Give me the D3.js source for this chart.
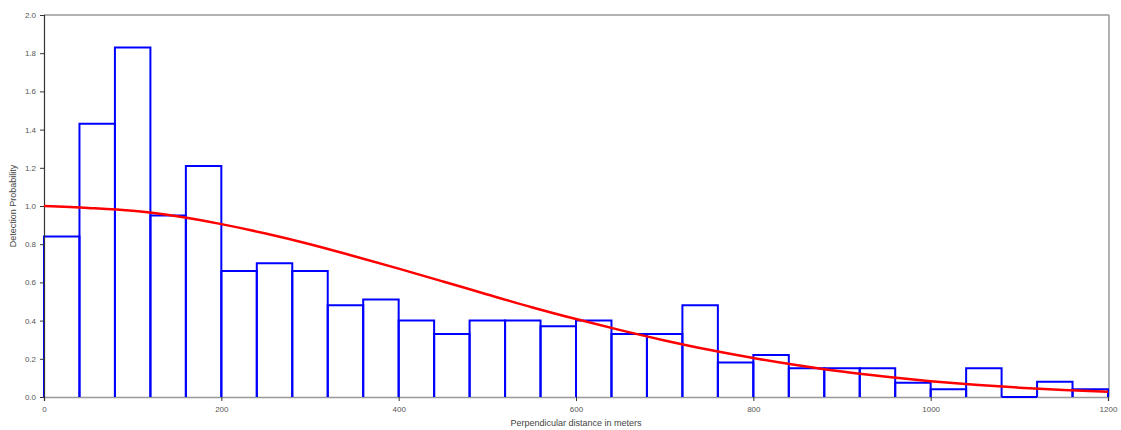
<!DOCTYPE html>
<html>
<head>
<meta charset="utf-8">
<script src="https://cdn.jsdelivr.net/npm/d3@7"></script>
<style>
  body { margin: 0; background: #fff; }
  text { font-family: "Liberation Sans", Arial, sans-serif; }
</style>
</head>
<body>
<div id="viz"></div>
<script>
// histogram bins (40 m wide), lower edges in meters
var binStarts = [0, 40, 80, 120, 160, 200, 240, 280, 320, 360, 400, 440, 480, 520, 560,
                 600, 640, 680, 720, 760, 800, 840, 880, 920, 960, 1000, 1040, 1080, 1120, 1160];
var binWidth = 40;
var binValues = [0.84, 1.43, 1.83, 0.95, 1.21, 0.66, 0.70, 0.66, 0.48, 0.51,
                 0.40, 0.33, 0.40, 0.40, 0.37, 0.40, 0.33, 0.33, 0.48, 0.18,
                 0.22, 0.15, 0.15, 0.15, 0.075, 0.04, 0.15, 0.0, 0.08, 0.04];

// fitted detection curve, every 50 m
var curveX = [0, 50, 100, 150, 200, 250, 300, 350, 400, 450, 500, 550, 600,
              650, 700, 750, 800, 850, 900, 950, 1000, 1050, 1100, 1150, 1200];
var curveY = [1.00, 0.99, 0.975, 0.946, 0.905, 0.856, 0.80, 0.737, 0.672, 0.605, 0.537, 0.47, 0.408,
              0.35, 0.296, 0.247, 0.204, 0.166, 0.133, 0.106, 0.083, 0.064, 0.049, 0.037, 0.028];

var xTicks = [0, 200, 400, 600, 800, 1000, 1200];
var yTicks = [0, 0.2, 0.4, 0.6, 0.8, 1.0, 1.2, 1.4, 1.6, 1.8, 2.0];

var width = 1121, height = 430;
var pLeft = 44, pRight = 1108, pTop = 15, pBottom = 397;

var x = d3.scaleLinear().domain([0, 1200]).range([pLeft, pRight]);
var y = d3.scaleLinear().domain([0, 2]).range([pBottom, pTop]);

var svg = d3.select("#viz").append("svg")
  .attr("width", width)
  .attr("height", height);

// frame: top and right grey lines
svg.append("line")
  .attr("x1", pLeft).attr("x2", pRight + 1)
  .attr("y1", pTop).attr("y2", pTop)
  .attr("stroke", "#999").attr("stroke-width", 1.5);
svg.append("line")
  .attr("x1", pRight + 1).attr("x2", pRight + 1)
  .attr("y1", pTop).attr("y2", pBottom)
  .attr("stroke", "#999").attr("stroke-width", 1.5);

// axes
var xAxis = svg.append("g")
  .attr("transform", "translate(0," + pBottom + ")")
  .call(d3.axisBottom(x).tickValues(xTicks).tickFormat(d3.format("d")).tickSize(4).tickPadding(5));
xAxis.select(".domain").attr("stroke", "#999").attr("stroke-width", 1.5);
xAxis.selectAll(".tick line").attr("stroke", "#333");
xAxis.selectAll("text").attr("fill", "#555").style("font-size", "8px").style("font-family", "Liberation Sans, Arial, sans-serif");

// bars: open outlines, an empty bin still shows its blue top on the base line
svg.selectAll(".bar")
  .data(binStarts)
  .join("path")
  .attr("class", "bar")
  .attr("d", function(d, i) {
    var x0 = x(d), x1 = x(d + binWidth), y0 = y(0), y1 = y(binValues[i]);
    return "M" + x0 + "," + y0 + "V" + y1 + "H" + x1 + "V" + y0;
  })
  .attr("fill", "none")
  .attr("stroke", "#0000ff")
  .attr("stroke-width", 2);

var yAxis = svg.append("g")
  .attr("transform", "translate(" + pLeft + ",0)")
  .call(d3.axisLeft(y).tickValues(yTicks).tickFormat(d3.format(".1f")).tickSize(4).tickPadding(4));
yAxis.select(".domain").attr("stroke", "#333").attr("stroke-width", 1.2);
yAxis.selectAll(".tick line").attr("stroke", "#333");
yAxis.selectAll("text").attr("fill", "#555").style("font-size", "8px").style("font-family", "Liberation Sans, Arial, sans-serif");

// detection function
var line = d3.line()
  .x(function(d, i) { return x(curveX[i]); })
  .y(function(d) { return y(d); })
  .curve(d3.curveMonotoneX);

svg.append("path")
  .datum(curveY)
  .attr("d", line)
  .attr("fill", "none")
  .attr("stroke", "#ff0000")
  .attr("stroke-width", 2.5);

// axis titles
svg.append("text")
  .attr("x", (pLeft + pRight) / 2)
  .attr("y", 426)
  .attr("text-anchor", "middle")
  .attr("fill", "#444")
  .style("font-size", "9px")
  .text("Perpendicular distance in meters");

svg.append("text")
  .attr("transform", "translate(16," + ((pTop + pBottom) / 2) + ") rotate(-90)")
  .attr("text-anchor", "middle")
  .attr("fill", "#444")
  .style("font-size", "9px")
  .text("Detection Probability");
</script>
</body>
</html>
